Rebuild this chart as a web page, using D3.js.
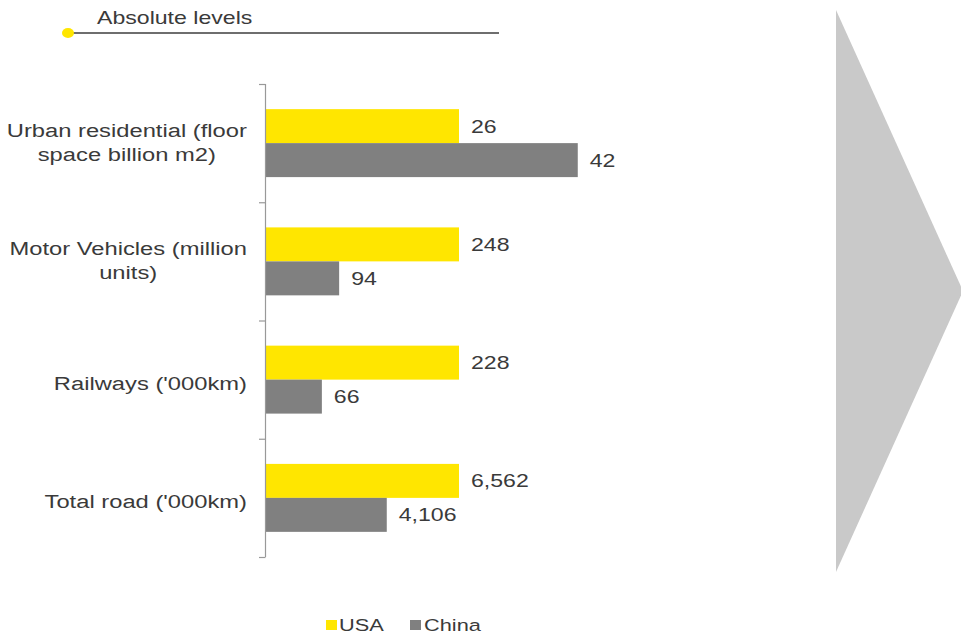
<!DOCTYPE html>
<html>
<head>
<meta charset="utf-8">
<script src="https://cdn.jsdelivr.net/npm/d3@7"></script>
<style>
  html, body { margin: 0; padding: 0; background: #fff; }
  svg { display: block; font-family: "Liberation Sans", Arial, sans-serif; }
</style>
</head>
<body>
<svg id="chart" width="961" height="641"></svg>
<script>
// Infrastructure stock, USA vs China (absolute levels)
const categories = [
  ["Urban residential (floor", "space billion m2)"],
  ["Motor Vehicles (million", "units)"],
  ["Railways ('000km)"],
  ["Total road ('000km)"]
];
const seriesNames = ["USA", "China"];
const usaValues = [26, 248, 228, 6562];
const chinaValues = [42, 94, 66, 4106];
const valueLabels = [
  ["26", "42"],
  ["248", "94"],
  ["228", "66"],
  ["6,562", "4,106"]
];
const titleText = "Absolute levels";

const colors = { USA: "#FFE600", China: "#808080" };
const textColor = "#3a3a3a";
const SX = 1.32; // horizontal text stretch

const svg = d3.select("#chart");

function stretchedText(sel, x, y) {
  return sel.attr("transform", `translate(${x},${y}) scale(${SX},1)`);
}

// Title with rule and marker
svg.append("line")
  .attr("x1", 68).attr("x2", 499).attr("y1", 33).attr("y2", 33)
  .attr("stroke", "#6e6e6e").attr("stroke-width", 2);
svg.append("ellipse")
  .attr("cx", 68).attr("cy", 33).attr("rx", 6).attr("ry", 5)
  .attr("fill", colors.USA);
stretchedText(svg.append("text"), 97, 24)
  .attr("font-size", 17.5).attr("fill", textColor).text(titleText);

// Scales: each category is drawn relative to its USA value
const catIdx = categories.map((c, i) => i);
const y0 = d3.scaleBand().domain(catIdx).range([84, 557]).paddingInner(0).paddingOuter(0);
const y1 = d3.scaleBand().domain(seriesNames).range([0, y0.bandwidth()])
  .paddingInner(0).paddingOuter(0.74);
const x = d3.scaleLinear().domain([0, 1]).range([266, 459]);

const rows = catIdx.map(i => ({
  i,
  values: [
    { s: "USA", v: usaValues[i], rel: usaValues[i] / usaValues[i], label: valueLabels[i][0] },
    { s: "China", v: chinaValues[i], rel: chinaValues[i] / usaValues[i], label: valueLabels[i][1] }
  ]
}));

const g = svg.append("g");
const rowG = g.selectAll("g.row").data(rows).enter().append("g")
  .attr("class", "row")
  .attr("transform", d => `translate(0,${y0(d.i)})`);

rowG.selectAll("rect").data(d => d.values).enter().append("rect")
  .attr("x", x(0))
  .attr("y", d => y1(d.s))
  .attr("width", d => x(d.rel) - x(0))
  .attr("height", y1.bandwidth())
  .attr("fill", d => colors[d.s]);

rowG.selectAll("text.val").data(d => d.values).enter().append("text")
  .attr("class", "val")
  .each(function(d) {
    stretchedText(d3.select(this), x(d.rel) + 12, y1(d.s) + y1.bandwidth() / 2 + 6.5);
  })
  .attr("font-size", 17.5).attr("fill", textColor)
  .text(d => d.label);

// Axis line with boundary ticks
const axisG = svg.append("g");
axisG.append("line")
  .attr("x1", 265.5).attr("x2", 265.5)
  .attr("y1", y0.range()[0]).attr("y2", y0.range()[1])
  .attr("stroke", "#999").attr("stroke-width", 1.2);
const tickYs = catIdx.map(i => y0(i)).concat([y0.range()[1]]);
axisG.selectAll("line.tick").data(tickYs).enter().append("line")
  .attr("class", "tick")
  .attr("x1", 259).attr("x2", 265.5)
  .attr("y1", d => d + 0.5).attr("y2", d => d + 0.5)
  .attr("stroke", "#999").attr("stroke-width", 1.2);

// Category labels
const labelRight = 247;
catIdx.forEach(i => {
  const lines = categories[i];
  const cy = y0(i) + y0.bandwidth() / 2;
  if (lines.length === 1) {
    stretchedText(svg.append("text"), labelRight, cy + 10)
      .attr("text-anchor", "end").attr("font-size", 18).attr("fill", textColor)
      .text(lines[0]);
  } else {
    const texts = lines.map((t, k) =>
      svg.append("text").attr("font-size", 18).attr("fill", textColor)
        .attr("text-anchor", "middle").text(t));
    const maxW = d3.max(texts, t => t.node().getComputedTextLength()) * SX;
    const cx = labelRight - maxW / 2;
    texts.forEach((t, k) => stretchedText(t, cx, cy - 6.5 + k * 24));
  }
});

// Legend
const legend = [
  { s: "USA", sx: 326, tx: 339 },
  { s: "China", sx: 410, tx: 424 }
];
legend.forEach(d => {
  svg.append("rect").attr("x", d.sx).attr("y", 620).attr("width", 11).attr("height", 10)
    .attr("fill", colors[d.s]);
  stretchedText(svg.append("text"), d.tx, 631)
    .attr("font-size", 16.5).attr("fill", textColor).text(d.s);
});

// Chevron arrow on the right
svg.append("path")
  .attr("d", d3.line()([[836, 10], [963, 291], [836, 572]]) + "Z")
  .attr("fill", "#c9c9c9");
</script>
</body>
</html>
